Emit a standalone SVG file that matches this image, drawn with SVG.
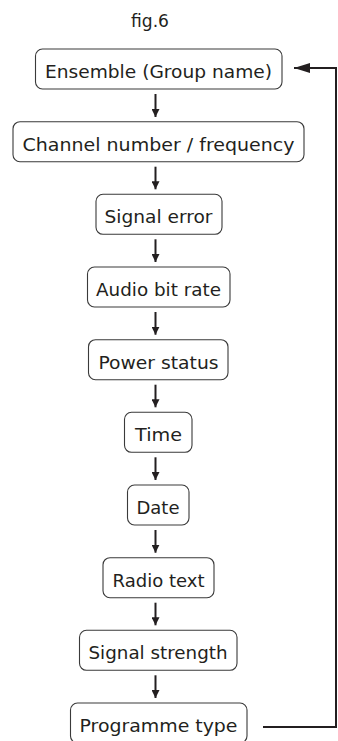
<svg xmlns="http://www.w3.org/2000/svg" width="338" height="741" viewBox="0 0 338 741">
<style>
.box{fill:#fff;stroke:#3a3a3a;stroke-width:1.1}
.t{font-family:"DejaVu Sans","Open Sans",sans-serif;font-size:18.3px;fill:#231f20;text-anchor:middle}
.c{fill:none;stroke:#231f20;stroke-width:2}
</style>
<defs>
<marker id="ah" markerUnits="userSpaceOnUse" markerWidth="8" markerHeight="8" refX="8" refY="4" orient="auto"><path d="M0,0 L8,4 L0,8 z" fill="#231f20"/></marker>
<marker id="ah2" markerUnits="userSpaceOnUse" markerWidth="16" markerHeight="10" refX="16" refY="5" orient="auto"><path d="M0,0 L16,5 L0,10 z" fill="#231f20"/></marker>
</defs>
<rect width="338" height="741" fill="#fff"/>
<text class="t" x="150" y="27" textLength="38" lengthAdjust="spacingAndGlyphs">fig.6</text>
<g id="n1"><rect class="box" x="35.5" y="49" width="246.5" height="40" rx="7"/><text class="t" x="158.5" y="78" textLength="227" lengthAdjust="spacingAndGlyphs">Ensemble (Group name)</text></g>
<g id="n2"><rect class="box" x="13" y="121.7" width="291" height="40" rx="7"/><text class="t" x="158.5" y="150.7" textLength="272" lengthAdjust="spacingAndGlyphs">Channel number / frequency</text></g>
<g id="n3"><rect class="box" x="96" y="194.3" width="126" height="40" rx="7"/><text class="t" x="158.5" y="223.3" textLength="108" lengthAdjust="spacingAndGlyphs">Signal error</text></g>
<g id="n4"><rect class="box" x="87.5" y="267" width="142.5" height="40" rx="7"/><text class="t" x="158.5" y="296" textLength="125" lengthAdjust="spacingAndGlyphs">Audio bit rate</text></g>
<g id="n5"><rect class="box" x="88.5" y="339.7" width="139.5" height="40" rx="7"/><text class="t" x="158.5" y="368.7" textLength="120" lengthAdjust="spacingAndGlyphs">Power status</text></g>
<g id="n6"><rect class="box" x="124.5" y="412.3" width="67.5" height="40" rx="7"/><text class="t" x="158.5" y="441.3" textLength="47" lengthAdjust="spacingAndGlyphs">Time</text></g>
<g id="n7"><rect class="box" x="127.5" y="485" width="61.5" height="40" rx="7"/><text class="t" x="158" y="514" textLength="43" lengthAdjust="spacingAndGlyphs">Date</text></g>
<g id="n8"><rect class="box" x="103" y="557.7" width="111" height="40" rx="7"/><text class="t" x="158.5" y="586.7" textLength="92" lengthAdjust="spacingAndGlyphs">Radio text</text></g>
<g id="n9"><rect class="box" x="79.5" y="630.3" width="157.5" height="40" rx="7"/><text class="t" x="158" y="659.3" textLength="139" lengthAdjust="spacingAndGlyphs">Signal strength</text></g>
<g id="n10"><rect class="box" x="70.5" y="703" width="176.5" height="40" rx="7"/><text class="t" x="158.5" y="732" textLength="158" lengthAdjust="spacingAndGlyphs">Programme type</text></g>
<g id="connectors">
<line class="c" x1="155.5" y1="94" x2="155.5" y2="117" marker-end="url(#ah)"/>
<line class="c" x1="155.5" y1="166.7" x2="155.5" y2="189.3" marker-end="url(#ah)"/>
<line class="c" x1="155.5" y1="239.3" x2="155.5" y2="262" marker-end="url(#ah)"/>
<line class="c" x1="155.5" y1="312" x2="155.5" y2="334.7" marker-end="url(#ah)"/>
<line class="c" x1="155.5" y1="384.7" x2="155.5" y2="407.3" marker-end="url(#ah)"/>
<line class="c" x1="155.5" y1="457.3" x2="155.5" y2="480" marker-end="url(#ah)"/>
<line class="c" x1="155.5" y1="530" x2="155.5" y2="552.7" marker-end="url(#ah)"/>
<line class="c" x1="155.5" y1="602.7" x2="155.5" y2="625.3" marker-end="url(#ah)"/>
<line class="c" x1="155.5" y1="675.3" x2="155.5" y2="698" marker-end="url(#ah)"/>
<polyline class="c" points="263,727 336,727 336,68 294,68" marker-end="url(#ah2)"/>
</g>
</svg>
